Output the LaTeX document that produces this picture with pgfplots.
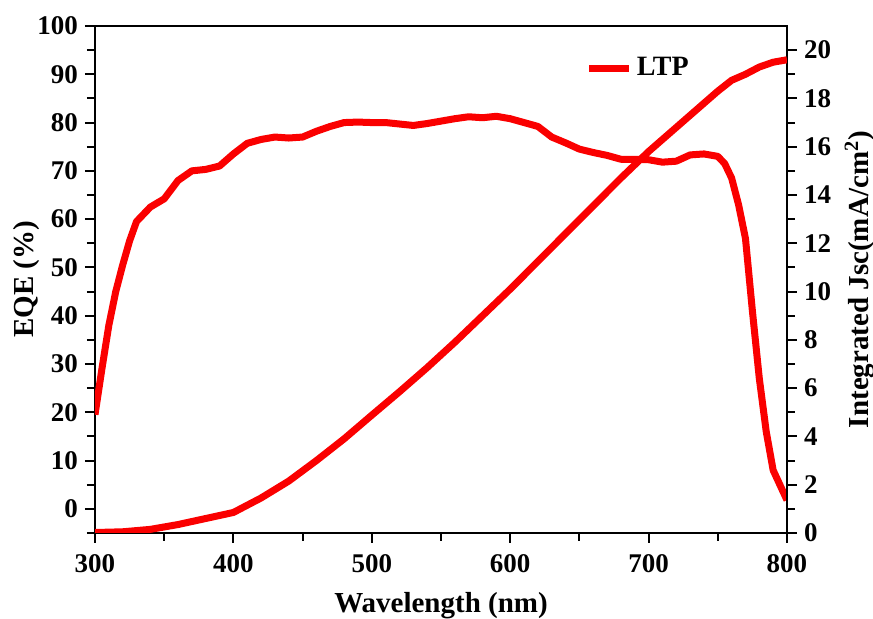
\documentclass[border=0pt]{standalone}
\usepackage{pgfplots}
\pgfplotsset{compat=1.18}
\usepackage{fontspec}
\setmainfont{Liberation Serif}

\definecolor{ltpred}{RGB}{250, 0, 0}

\pgfplotstableread{
wl eqe
300 19.5
305 29
310 38
315 45
320 50.5
325 55.5
330 59.5
340 62.5
350 64.2
360 68
370 70
380 70.3
390 71
400 73.5
410 75.7
420 76.5
430 77
440 76.8
450 77
460 78.2
470 79.2
480 80
490 80.1
500 80
510 80
520 79.7
530 79.4
540 79.8
550 80.3
560 80.8
570 81.2
580 81
590 81.3
600 80.8
610 80
620 79.2
630 77
640 75.8
650 74.5
660 73.8
670 73.2
680 72.4
690 72.4
700 72.3
710 71.8
720 72
730 73.3
740 73.5
750 73
755 71.5
760 68.5
765 63
770 56
775 41
780 27
785 16
790 8
800 1.8
}\eqetab

\pgfplotstableread{
wl jsc
300 0.02
320 0.05
340 0.15
360 0.35
380 0.6
400 0.85
420 1.45
440 2.15
460 3.0
480 3.9
500 4.88
520 5.85
540 6.85
560 7.9
580 9.0
600 10.1
620 11.25
640 12.4
660 13.55
680 14.7
700 15.8
720 16.8
740 17.8
750 18.3
760 18.75
770 19.0
780 19.3
790 19.5
800 19.6
}\jsctab

\begin{document}
\begin{tikzpicture}
\useasboundingbox (-47.5pt,-43pt) rectangle (389pt,266.5pt);
\pgfplotsset{
  every axis/.append style={
    scale only axis,
    width=346pt, height=253.5pt,
    xmin=300, xmax=800,
    axis line style={line width=1pt},
    tick style={line width=1pt, black},
    major tick length=5pt,
    minor tick length=4pt,
    tick align=outside,
    tick label style={font=\fontsize{13.5}{13.5}\selectfont\bfseries},
    label style={font=\fontsize{14.5}{15}\selectfont\bfseries},
    /pgf/number format/assume math mode=true,
  }
}
\begin{axis}[
  ymin=-5, ymax=100,
  xtick={300,400,...,800},
  minor xtick={350,450,...,750},
  ytick={0,10,...,100},
  minor ytick={-5,5,...,95},
  xtick pos=bottom,
  ytick pos=left,
  xticklabel style={yshift=-2pt},
  xlabel={Wavelength (nm)},
  ylabel={EQE (\%)},
  xlabel style={yshift=-3pt},
  ylabel style={yshift=-8pt},
  legend style={draw=none, fill=none, at={(0.7,0.917)}, anchor=west,
    font=\fontsize{14}{14}\selectfont\bfseries},
  legend cell align=left,
  legend image code/.code={\draw[#1, line width=3.5pt] (0pt,0pt) -- (20pt,0pt);},
]
\addplot[ltpred, line width=3.5pt, line join=round] table[x=wl, y=eqe] {\eqetab};
\addlegendentry{LTP}
\end{axis}
\begin{axis}[
  ymin=0, ymax=21,
  hide x axis,
  axis y line*=right,
  ytick={0,2,...,20},
  minor ytick={1,3,...,19},
  ylabel={Integrated Jsc(mA/cm$^{\mathbf{2}}$)},
  ylabel style={yshift=0pt},
]
\addplot[ltpred, line width=3.5pt, line join=round] table[x=wl, y=jsc] {\jsctab};
\end{axis}
\end{tikzpicture}
\end{document}
